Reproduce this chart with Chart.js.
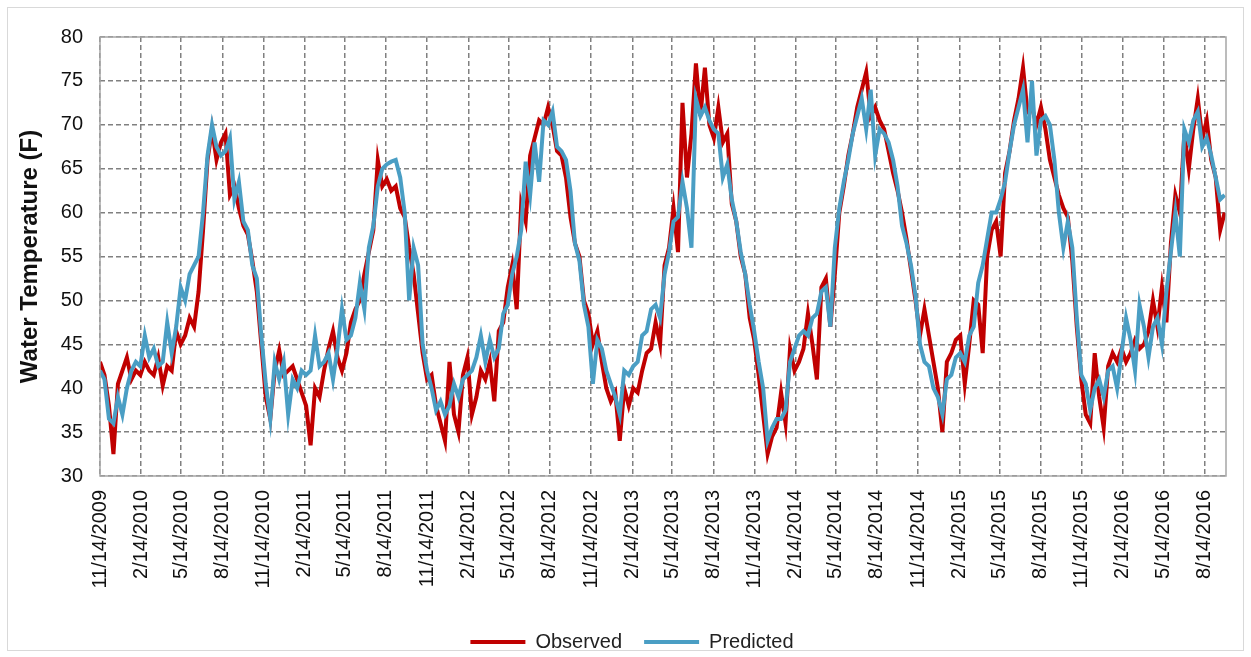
<!DOCTYPE html>
<html>
<head>
<meta charset="utf-8">
<script src="https://cdn.jsdelivr.net/npm/chart.js@4/dist/chart.umd.min.js"></script>
<style>
  html, body { margin: 0; padding: 0; background: #ffffff; }
  #wrap { position: relative; width: 1251px; height: 657px; }
  canvas { display: block; }
</style>
</head>
<body>
<div id="wrap"><canvas id="chart" width="1251" height="657"></canvas></div>
<script>
// Daily water temperature record, sampled every 10 days from 11/14/2009.
const START_DATE = '11/14/2009';
const SAMPLE_STEP_DAYS = 10;

const observed = [
  43, 41.5, 38, 32.5, 40.5, 42, 43.5, 41, 42, 41.5,
  43, 42, 41.5, 43.5, 40.3, 42.5, 42, 46.5, 45, 46,
  48, 47, 51, 58, 66, 69.5, 66, 68, 69, 62,
  63, 60.5, 58.5, 57.5, 54.5, 51, 45, 39, 36.5, 42,
  44.3, 41.5, 42, 42.5, 41, 39.5, 38, 33.5, 40, 39,
  42, 44.5, 46.5, 43.5, 42, 44, 47.5, 49, 50, 53,
  55.5, 58, 66, 63, 63.8, 62.5, 63, 60.5, 59.5, 56,
  53, 48.5, 44, 41, 41.5, 38, 36, 34, 43, 37,
  35, 41.5, 43.5, 37, 39, 42, 41, 43, 38.5, 46.5,
  47.5, 51.5, 54, 49, 61, 59, 66.5, 68.5, 70.5, 70,
  72, 70, 67, 66.5, 64, 59.5, 56.5, 55, 50, 48.5,
  45, 46.5, 43, 40, 38.5, 39.5, 34, 40, 38, 40,
  39.5, 42, 44, 44.5, 47.5, 45, 54, 56, 60.5, 55.5,
  72.5, 64, 69, 77, 71, 76.5, 70, 68.5, 72, 68,
  69, 61, 59, 55, 53, 48, 45.5, 41.5, 37, 32.5,
  34.5, 35.5, 39.5, 36, 44.5, 42, 43, 44.5, 48.5, 45,
  41, 51.5, 52.5, 47, 53, 60, 63, 66.5, 69, 72,
  74, 76, 71, 72, 70.5, 69.5, 67, 64.5, 62.5, 60,
  57, 53.5, 50, 46, 49, 46, 43, 40, 35, 43,
  44, 45.5, 46, 40.5, 45, 50, 49.5, 44, 55, 58,
  59, 55, 64.5, 67, 70.5, 73, 76.5, 71.5, 72, 70,
  72, 69.5, 66, 64, 62, 60.5, 59.5, 54.5, 47, 41,
  37, 36, 44, 39, 35.5, 42.5, 44, 43, 44.5, 43,
  44, 45.5, 44.5, 45, 46.5, 50, 47, 51.5, 47.5, 56.5,
  62, 60, 69, 65, 69.5, 73, 68.5, 70.5, 66, 64,
  58, 60
];

const predicted = [
  42, 41, 36.5, 36, 39, 37, 40, 42, 43, 42.5,
  46, 43.5, 44.5, 42.5, 43, 47.5, 44, 47, 51.5, 50,
  53, 54, 55, 60, 66.5, 70, 67.5, 66.5, 67, 68.5,
  61.5, 63.5, 59, 58, 54, 52.5, 46, 40.5, 36.5, 43,
  41, 43, 37, 41, 40, 42, 41.5, 42, 46, 42.5,
  43, 44, 41, 44.5, 49, 45.5, 46, 48, 52, 49,
  56, 58.5, 63, 65, 65.5, 65.8, 66, 64, 60, 50,
  56, 54, 45, 42, 40, 37.5, 38.5, 37, 38, 40.5,
  39, 41, 41.5, 42, 43.5, 46, 43, 45.5, 43.5, 44.5,
  48.5, 49.5, 53, 55, 58, 65.8, 62, 68, 63.5, 70.5,
  70, 71.5, 67.5, 67, 66, 62.5, 56.5, 54.5, 49.5, 47,
  40.5, 45.5, 44.5, 42, 40.5, 39, 37, 42, 41.5, 42.5,
  43, 46, 46.5, 49, 49.5, 48, 53, 55.5, 59, 59.5,
  63.5, 60.5, 56, 73, 71, 72, 70.5, 69.5, 69, 64,
  65.5, 61.5, 59, 55.5, 53, 49.5, 46.5, 43, 40, 34,
  35.5, 36.5, 36.5, 37.5, 43, 44.5, 46, 46.5, 46, 48,
  48.5, 51, 51.5, 47, 56, 60.5, 63.5, 66, 69, 71,
  73, 69.5, 74, 66.5, 69.5, 69, 68, 66, 63, 58.5,
  56.5, 54, 50.5, 45, 43, 42.5, 40, 39, 37, 41,
  41.5, 43.5, 44, 43, 46, 47, 52, 54, 57, 60,
  60, 61.5, 63.5, 67, 70, 72, 74, 68, 75, 66.5,
  70.5, 71, 70, 66, 60, 56, 59, 56, 48, 41.5,
  40.5, 37.5, 40, 41, 39, 42, 42.5, 40, 44, 48,
  45.5, 42, 49.5, 47, 43.5, 47, 48, 45, 51, 55.5,
  60, 55, 69.5, 68, 70.5, 71.5, 67.5, 68.5, 66.5, 64,
  61.5, 62
];

const tickLabels = [
  '11/14/2009', '2/14/2010', '5/14/2010', '8/14/2010',
  '11/14/2010', '2/14/2011', '5/14/2011', '8/14/2011',
  '11/14/2011', '2/14/2012', '5/14/2012', '8/14/2012',
  '11/14/2012', '2/14/2013', '5/14/2013', '8/14/2013',
  '11/14/2013', '2/14/2014', '5/14/2014', '8/14/2014',
  '11/14/2014', '2/14/2015', '5/14/2015', '8/14/2015',
  '11/14/2015', '2/14/2016', '5/14/2016', '8/14/2016'
];

const yTicks = [30, 35, 40, 45, 50, 55, 60, 65, 70, 75, 80];

// Day offset of an m/d/yyyy date from the first sample.
function dayOffset(label) {
  const [m, d, y] = label.split('/').map(Number);
  const [m0, d0, y0] = START_DATE.split('/').map(Number);
  return Math.round((Date.UTC(y, m - 1, d) - Date.UTC(y0, m0 - 1, d0)) / 86400000);
}

const tickDays = tickLabels.map(dayOffset);
const toPoints = arr => arr.map((v, i) => ({ x: i * SAMPLE_STEP_DAYS, y: v }));

const RED = '#C00000';
const BLUE = '#4A9EC4';
const GRID = '#808080';
const FONT = "'Liberation Sans', Arial, sans-serif";

// Solid frame around the plot area, a light outline around the whole chart,
// and a small nudge that centres the legend under the plot.
const framePlugin = {
  id: 'frame',
  afterLayout(chart) {
    const lg = chart.legend;
    if (lg) {
      lg.left += 14; lg.right += 14;
      lg.top += 5; lg.bottom += 5;
    }
  },
  beforeDraw(chart) {
    const ctx = chart.ctx;
    ctx.save();
    ctx.strokeStyle = '#D9D9D9';
    ctx.lineWidth = 1;
    ctx.strokeRect(7.5, 7.5, 1236, 643);
    ctx.restore();
  },
  afterDatasetsDraw(chart) {
    const a = chart.chartArea;
    const ctx = chart.ctx;
    ctx.save();
    ctx.strokeStyle = '#A6A6A6';
    ctx.lineWidth = 1.5;
    ctx.strokeRect(a.left, a.top, a.right - a.left, a.bottom - a.top);
    ctx.restore();
  }
};

new Chart(document.getElementById('chart'), {
  type: 'line',
  data: {
    datasets: [
      {
        label: 'Observed',
        data: toPoints(observed),
        borderColor: RED,
        backgroundColor: RED,
        borderWidth: 4,
        pointRadius: 0,
        tension: 0,
        order: 2
      },
      {
        label: 'Predicted',
        data: toPoints(predicted),
        borderColor: BLUE,
        backgroundColor: BLUE,
        borderWidth: 4,
        pointRadius: 0,
        tension: 0,
        order: 1
      }
    ]
  },
  options: {
    responsive: false,
    animation: false,
    parsing: false,
    layout: { padding: { left: 10, right: 25, top: 37, bottom: 0 } },
    plugins: {
      tooltip: { enabled: false },
      legend: {
        position: 'bottom',
        labels: {
          font: { family: FONT, size: 20 },
          color: '#222',
          boxWidth: 55,
          boxHeight: 4,
          padding: 22,
          sort: (a, b) => a.datasetIndex - b.datasetIndex,
          generateLabels(chart) {
            const items = Chart.defaults.plugins.legend.labels.generateLabels(chart);
            items.forEach(it => { it.lineWidth = 0; it.fillStyle = it.strokeStyle; });
            return items;
          }
        }
      }
    },
    scales: {
      x: {
        type: 'linear',
        min: 0,
        max: 2513,
        afterBuildTicks(scale) {
          scale.ticks = tickDays.map(v => ({ value: v }));
        },
        afterFit(scale) { scale.height = 129; },
        ticks: {
          autoSkip: false,
          minRotation: 90,
          maxRotation: 90,
          padding: 14,
          color: '#111',
          font: { family: FONT, size: 20 },
          callback: (v, i) => tickLabels[i]
        },
        grid: { color: GRID, lineWidth: 1.5, drawTicks: false },
        border: { display: false, dash: [5, 3] }
      },
      y: {
        min: 30,
        max: 80,
        afterBuildTicks(scale) {
          scale.ticks = yTicks.map(v => ({ value: v }));
        },
        afterFit(scale) { scale.width = 90; },
        ticks: {
          padding: 17,
          color: '#111',
          font: { family: FONT, size: 20 }
        },
        grid: { color: GRID, lineWidth: 1.5, drawTicks: false },
        border: { display: false, dash: [5, 3] },
        title: {
          display: true,
          text: 'Water Temperature (F)',
          color: '#111',
          font: { family: FONT, size: 24, weight: 'bold' },
          padding: { top: 6, bottom: 0 }
        }
      }
    }
  },
  plugins: [framePlugin]
});
</script>
</body>
</html>
